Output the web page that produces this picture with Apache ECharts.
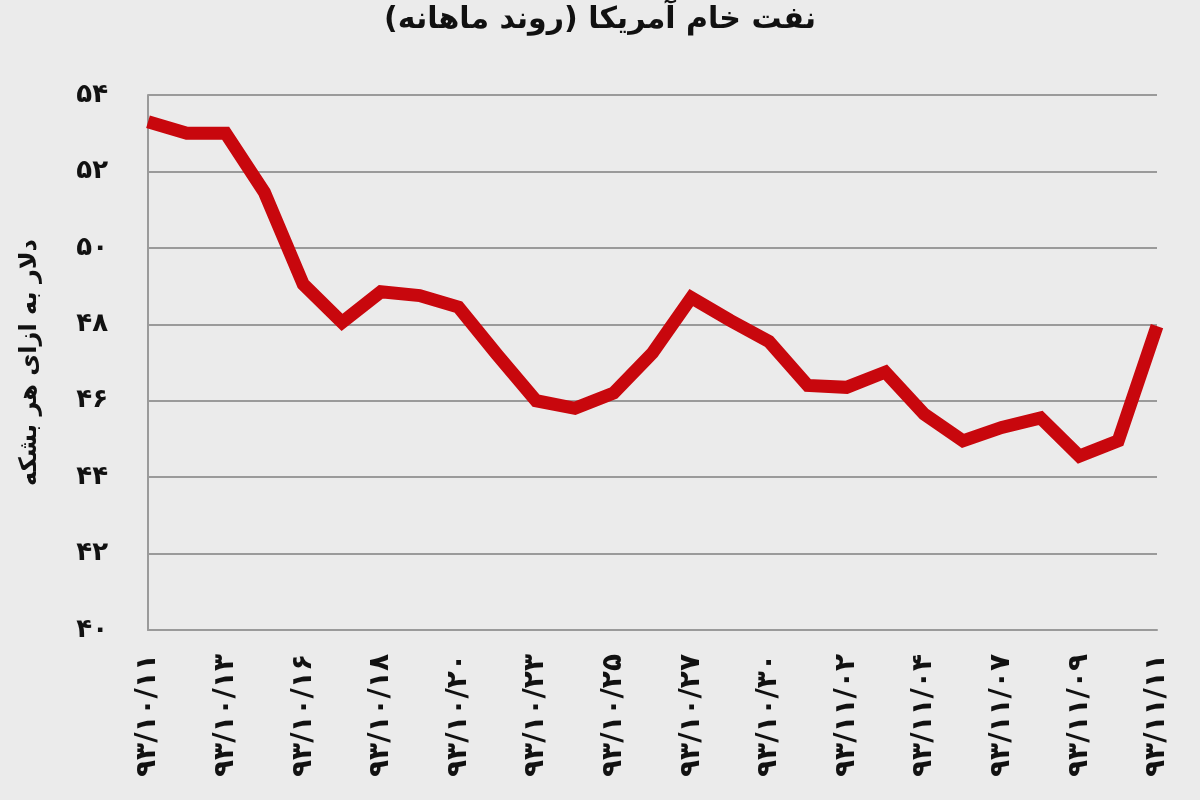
<!DOCTYPE html>
<html>
<head>
<meta charset="utf-8">
<script src="https://cdn.jsdelivr.net/npm/echarts@6/dist/echarts.min.js"></script>
<style>
  html, body { margin: 0; padding: 0; background: #ebebeb; }
  #chart { width: 1200px; height: 800px; }
</style>
</head>
<body>
<div id="chart"></div>
<script>
// تاریخ‌ها (روزهای معاملاتی)
var categories = [
  '۹۳/۱۰/۱۱', '۹۳/۱۰/۱۲', '۹۳/۱۰/۱۳', '۹۳/۱۰/۱۴', '۹۳/۱۰/۱۶', '۹۳/۱۰/۱۷',
  '۹۳/۱۰/۱۸', '۹۳/۱۰/۱۹', '۹۳/۱۰/۲۰', '۹۳/۱۰/۲۱', '۹۳/۱۰/۲۳', '۹۳/۱۰/۲۴',
  '۹۳/۱۰/۲۵', '۹۳/۱۰/۲۶', '۹۳/۱۰/۲۷', '۹۳/۱۰/۲۸', '۹۳/۱۰/۳۰', '۹۳/۱۱/۰۱',
  '۹۳/۱۱/۰۲', '۹۳/۱۱/۰۳', '۹۳/۱۱/۰۴', '۹۳/۱۱/۰۵', '۹۳/۱۱/۰۷', '۹۳/۱۱/۰۸',
  '۹۳/۱۱/۰۹', '۹۳/۱۱/۱۰', '۹۳/۱۱/۱۱'
];

// قیمت نفت خام (دلار به ازای هر بشکه)
var prices = [
  53.3, 53.0, 53.0, 51.45, 49.05, 48.05, 48.85, 48.75, 48.45, 47.2,
  46.0, 45.8, 46.2, 47.25, 48.7, 48.1, 47.55, 46.4, 46.35, 46.75,
  45.65, 44.95, 45.3, 45.55, 44.55, 44.95, 47.95
];

var yTickValues = [40, 42, 44, 46, 48, 50, 52, 54];
var yTickLabels = ['۴۰', '۴۲', '۴۴', '۴۶', '۴۸', '۵۰', '۵۲', '۵۴'];

var titleText = 'نفت خام آمریکا (روند ماهانه)';
var yAxisName = 'دلار به ازای هر بشکه';

var chart = echarts.init(document.getElementById('chart'));

var option = {
  backgroundColor: '#ebebeb',
  textStyle: { fontFamily: 'DejaVu Sans' },
  title: {
    text: titleText,
    left: 'center',
    top: 0,
    textStyle: { fontSize: 30, fontWeight: 'bold', color: '#111' }
  },
  grid: { left: 148, right: 43, top: 95, bottom: 170 },
  xAxis: {
    type: 'category',
    data: categories,
    boundaryGap: false,
    axisLine: { lineStyle: { color: '#9a9a9a', width: 2 } },
    axisTick: { show: false },
    axisLabel: {
      interval: 1,
      rotate: 90,
      margin: 24,
      fontSize: 28,
      fontWeight: 'bold',
      color: '#111'
    },
    splitLine: { show: false }
  },
  yAxis: {
    type: 'value',
    min: 40,
    max: 54,
    interval: 2,
    name: yAxisName,
    nameLocation: 'middle',
    nameGap: 106,
    nameRotate: 90,
    nameTextStyle: { fontSize: 24, fontWeight: 'bold', color: '#111' },
    axisLine: { show: true, lineStyle: { color: '#9a9a9a', width: 2 } },
    axisTick: { show: false },
    axisLabel: {
      margin: 40,
      fontSize: 26,
      fontWeight: 'bold',
      color: '#111',
      formatter: function (v) {
        var i = yTickValues.indexOf(v);
        return i >= 0 ? yTickLabels[i] : '';
      }
    },
    splitLine: { lineStyle: { color: '#9a9a9a', width: 2 } }
  },
  series: [{
    type: 'line',
    data: prices,
    showSymbol: false,
    lineStyle: { color: '#c8070d', width: 13, join: 'miter' },
    z: 3
  }]
};

chart.setOption(option);
</script>
</body>
</html>
